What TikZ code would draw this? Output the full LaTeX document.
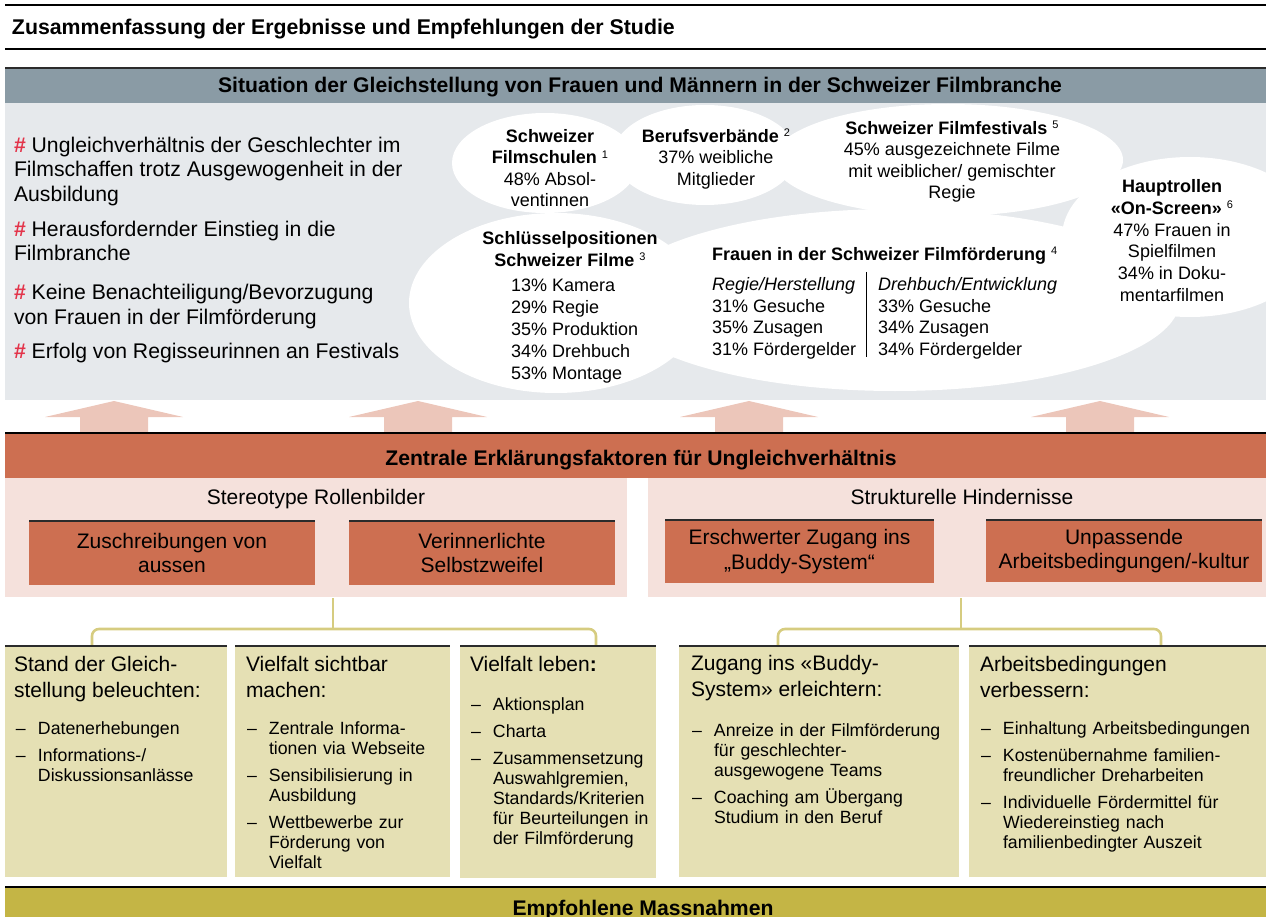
\documentclass[tikz,border=0pt]{standalone}
\usepackage{fontspec}
\setmainfont{Liberation Sans}
\definecolor{hdrgrey}{HTML}{8A9BA5}
\definecolor{panelgrey}{HTML}{E6E9EC}
\definecolor{terracotta}{HTML}{CD6F51}
\definecolor{rosepanel}{HTML}{F5E1DC}
\definecolor{arrowrose}{HTML}{ECC6BA}
\definecolor{khakibox}{HTML}{E5E0B4}
\definecolor{oliveband}{HTML}{C4B545}
\definecolor{bracekhaki}{HTML}{D6CC80}
\definecolor{hashred}{HTML}{E3344A}
\definecolor{edgedark}{HTML}{2B2B2B}
\newcommand\fsz[2]{\fontsize{#1}{#2}\selectfont}
\newcommand\fn[1]{\raisebox{0.62ex}{\fsz{11}{11}\mdseries #1}}
\newcommand\hs{\textcolor{hashred}{\textbf{\#}}}
% one dash item with hanging indent; lines inside are broken with \newline
\newcommand\itm[1]{\noindent\hangindent=22pt\hangafter=1\makebox[22pt][l]{–}#1\par}
\begin{document}
\begin{tikzpicture}[x=1pt,y=-1pt,
  every node/.style={inner sep=0pt,outer sep=0pt},
  area/.style={anchor=north west,minimum width=#1},
  boldhead/.style={font=\bfseries\fsz{21.15}{24}},
  bullettxt/.style={anchor=base west,align=left,font=\fsz{21.2}{24.5}},
  cloudtxt/.style={anchor=base,align=center,font=\fsz{18}{21.5}},
  cloudlist/.style={anchor=base west,align=left,font=\fsz{18}{21.7}},
  factorbox/.style={fill=terracotta,anchor=north west},
  factortxt/.style={align=center,font=\fsz{21}{24.5}},
  measurebox/.style={fill=khakibox,anchor=north west},
  measurehead/.style={anchor=base west,align=left,font=\fsz{21}{26}},
  measurelist/.style={anchor=base west,font=\fsz{17.7}{20}},
  topedge/.style={draw=edgedark,line width=1.6pt},
  rule/.style={draw=black,line width=1.3pt},
  brace/.style={draw=bracekhaki,line width=2.6pt,rounded corners=7pt},
  blockarrow/.style={fill=arrowrose}]
\useasboundingbox (0,0) rectangle (1266,917);

% ---------- title ----------
\draw[rule] (5,5) -- (1266,5);
\node[anchor=base west,font=\bfseries\fsz{21.3}{24}] (title) at (12,34.5)
  {Zusammenfassung der Ergebnisse und Empfehlungen der Studie};
\draw[rule] (5,49) -- (1266,49);

% ---------- situation ----------
\node[area=1261pt,fill=hdrgrey,minimum height=35pt] (sit) at (5,68) {};
\draw[topedge] (sit.north west) -- (sit.north east);
\node[boldhead,anchor=base] (sittxt) at (640,93)
  {Situation der Gleichstellung von Frauen und Männern in der Schweizer Filmbranche};
\node[area=1261pt,fill=panelgrey,minimum height=297pt] (panel) at (5,103) {};

% findings on the left (anchor = baseline of the last line)
\node[bullettxt] (f1) at (14,201.5) {\hs{} Ungleichverhältnis der Geschlechter im\\Filmschaffen trotz Ausgewogenheit in der\\Ausbildung};
\node[bullettxt] (f2) at (14,261) {\hs{} Herausfordernder Einstieg in die\\Filmbranche};
\node[bullettxt] (f3) at (14,324) {\hs{} Keine Benachteiligung/Bevorzugung\\von Frauen in der Filmförderung};
\node[bullettxt] (f4) at (14,358.5) {\hs{} Erfolg von Regisseurinnen an Festivals};

% white cloud of figures
\begin{scope}[white]
  \fill (545,163) ellipse [x radius=93pt,y radius=50pt];
  \fill (705,155) ellipse [x radius=92pt,y radius=50pt];
  \fill (948,160) ellipse [x radius=175pt,y radius=56pt];
  \fill (1190,237) ellipse [x radius=128pt,y radius=80pt];
  \fill (556,303) ellipse [x radius=147pt,y radius=90pt];
  \fill (895,300) ellipse [x radius=285pt,y radius=91pt];
\end{scope}

\node[cloudtxt] (schulen) at (550,207)
  {\textbf{Schweizer}\\\textbf{Filmschulen} \fn{1}\\48\% Absol-\\ventinnen};
\node[cloudtxt] (verbaende) at (716,185.5)
  {\textbf{Berufsverbände} \fn{2}\\37\% weibliche\\Mitglieder};
\node[cloudtxt,font=\fsz{18}{21.3}] (festivals) at (952,198.4)
  {\textbf{Schweizer Filmfestivals} \fn{5}\\45\% ausgezeichnete Filme\\mit weiblicher/ gemischter\\Regie};
\node[cloudtxt,font=\fsz{18}{21.8}] (rollen) at (1172,301.5)
  {\textbf{Hauptrollen}\\\textbf{«On-Screen»} \fn{6}\\47\% Frauen in\\Spielfilmen\\34\% in Doku-\\mentarfilmen};
\node[cloudtxt,font=\fsz{18}{22}] (schluessel) at (570,266.5)
  {\textbf{Schlüsselpositionen}\\\textbf{Schweizer Filme} \fn{3}};
\node[cloudlist,font=\fsz{18}{22}] (schluesselliste) at (511,379.5)
  {13\% Kamera\\29\% Regie\\35\% Produktion\\34\% Drehbuch\\53\% Montage};
\node[anchor=base west,font=\fsz{18}{21.5}] (foerderung) at (712,260.5)
  {\textbf{Frauen in der Schweizer Filmförderung} \fn{4}};
\node[cloudlist] (regie) at (712,355.6)
  {\textit{Regie/Herstellung}\\31\% Gesuche\\35\% Zusagen\\31\% Fördergelder};
\node[cloudlist] (drehbuch) at (878,355.6)
  {\textit{Drehbuch/Entwicklung}\\33\% Gesuche\\34\% Zusagen\\34\% Fördergelder};
\draw[black,line width=0.8pt] (866,272) -- (866,357);

% ---------- upward arrows ----------
\foreach \c in {114,418,749,1100}
  \fill[blockarrow] (\c-34,433) -- (\c-34,417) -- (\c-69,417) -- (\c,401)
    -- (\c+69,417) -- (\c+34,417) -- (\c+34,433) -- cycle;

% ---------- explanatory factors ----------
\node[area=1261pt,fill=terracotta,minimum height=45pt] (factors) at (5,433) {};
\draw[rule] (factors.north west) -- (factors.north east);
\node[boldhead,anchor=base] (factorstxt) at (641,465) {Zentrale Erklärungsfaktoren für Ungleichverhältnis};

\node[area=622pt,fill=rosepanel,minimum height=119pt] (pnlL) at (5,478) {};
\node[area=618pt,fill=rosepanel,minimum height=119pt] (pnlR) at (648,478) {};
\node[anchor=base,font=\fsz{21}{24}] (stereo) at (316,504.5) {Stereotype Rollenbilder};
\node[anchor=base,font=\fsz{21}{24}] (struktur) at (962,504.5) {Strukturelle Hindernisse};

\node[factorbox,minimum width=286pt,minimum height=64pt] (zz1) at (29,521) {};
\node[factortxt] at (zz1) {Zuschreibungen von\\aussen};
\node[factorbox,minimum width=266pt,minimum height=64pt] (zz2) at (349,521) {};
\node[factortxt] at (zz2) {Verinnerlichte\\Selbstzweifel};
\node[factorbox,minimum width=269pt,minimum height=63pt] (zz3) at (665,520) {};
\node[factortxt] at (zz3) {Erschwerter Zugang ins\\„Buddy-System“};
\node[factorbox,minimum width=276pt,minimum height=62pt] (zz4) at (986,520) {};
\node[factortxt] at (zz4) {Unpassende\\Arbeitsbedingungen/-kultur};
\foreach \b in {zz1,zz2,zz3,zz4}
  \draw[draw=edgedark,line width=1.2pt] (\b.north west) -- (\b.north east);

% ---------- braces ----------
\coordinate (bl-stem) at (333,598);
\coordinate (bl-mid) at (333,629);
\coordinate (bl-a) at (92,646);
\coordinate (bl-b) at (596,646);
\draw[brace] (bl-a) -- (92,629) -- (596,629) -- (bl-b);
\draw[brace,rounded corners=0pt] (bl-stem) -- (bl-mid);
\coordinate (br-stem) at (961,598);
\coordinate (br-mid) at (961,629);
\coordinate (br-a) at (778,646);
\coordinate (br-b) at (1161,646);
\draw[brace] (br-a) -- (778,629) -- (1161,629) -- (br-b);
\draw[brace,rounded corners=0pt] (br-stem) -- (br-mid);

% ---------- recommended measures ----------
\node[measurebox,minimum width=222pt,minimum height=231pt] (m1) at (5,646) {};
\node[measurebox,minimum width=215pt,minimum height=231pt] (m2) at (235,646) {};
\node[measurebox,minimum width=196pt,minimum height=232pt] (m3) at (460,646) {};
\node[measurebox,minimum width=280pt,minimum height=231pt] (m4) at (679,646) {};
\node[measurebox,minimum width=297pt,minimum height=231pt] (m5) at (969,646) {};
\foreach \b in {m1,m2,m3,m4,m5}
  \draw[topedge] (\b.north west) -- (\b.north east);

\node[measurehead] (h1) at (14,697.5) {Stand der Gleich-\\stellung beleuchten:};
\node[measurelist,text width=205pt] (l1) at (16,734)
  {\setlength{\parskip}{7pt}\itm{Datenerhebungen}\itm{Informations-/\newline Diskussionsanlässe}};

\node[measurehead] (h2) at (246,697.5) {Vielfalt sichtbar\\machen:};
\node[measurelist,text width=200pt] (l2) at (247,734.5)
  {\setlength{\parskip}{7pt}\itm{Zentrale Informa-\newline tionen via Webseite}\itm{Sensibilisierung in\newline Ausbildung}\itm{Wettbewerbe zur\newline Förderung von\newline Vielfalt}};

\node[measurehead] (h3) at (470,671.5) {Vielfalt leben\textbf{:}};
\node[measurelist,text width=185pt] (l3) at (471,710)
  {\setlength{\parskip}{7pt}\itm{Aktionsplan}\itm{Charta}\itm{Zusammensetzung\newline Auswahlgremien,\newline Standards/Kriterien\newline für Beurteilungen in\newline der Filmförderung}};

\node[measurehead] (h4) at (691,696) {Zugang ins «Buddy-\\System» erleichtern:};
\node[measurelist,text width=265pt] (l4) at (692,736)
  {\setlength{\parskip}{7pt}\itm{Anreize in der Filmförderung\newline für geschlechter-\newline ausgewogene Teams}\itm{Coaching am Übergang\newline Studium in den Beruf}};

\node[measurehead] (h5) at (980,697.5) {Arbeitsbedingungen\\verbessern:};
\node[measurelist,text width=285pt] (l5) at (981,734.5)
  {\setlength{\parskip}{7pt}\itm{Einhaltung Arbeitsbedingungen}\itm{Kostenübernahme familien-\newline freundlicher Dreharbeiten}\itm{Individuelle Fördermittel für\newline Wiedereinstieg nach\newline familienbedingter Auszeit}};

\node[area=1261pt,fill=oliveband,minimum height=30pt] (measures) at (5,887) {};
\draw[rule] (measures.north west) -- (measures.north east);
\node[boldhead,anchor=base] (measurestxt) at (643,915) {Empfohlene Massnahmen};
\end{tikzpicture}
\end{document}
